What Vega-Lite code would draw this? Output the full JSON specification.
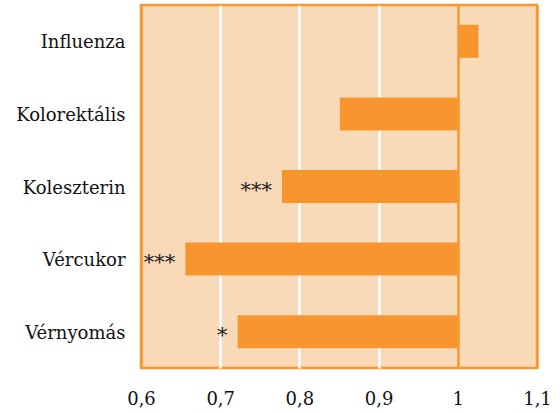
{
  "$schema": "https://vega.github.io/schema/vega-lite/v6.json",
  "autosize": "none",
  "width": 396,
  "height": 363,
  "padding": {"left": 141, "top": 5, "right": 23, "bottom": 45},
  "background": "white",
  "config": {
    "font": "DejaVu Serif",
    "view": {"fill": "#F8DAB8", "stroke": "#F7982F", "strokeWidth": 2.5}
  },
  "data": {
    "values": [
      {"category": "Influenza", "value": 1.026, "sig": ""},
      {"category": "Kolorektális", "value": 0.851, "sig": ""},
      {"category": "Koleszterin", "value": 0.778, "sig": "***"},
      {"category": "Vércukor", "value": 0.656, "sig": "***"},
      {"category": "Vérnyomás", "value": 0.722, "sig": "*"}
    ]
  },
  "encoding": {
    "y": {
      "field": "category",
      "type": "nominal",
      "sort": null,
      "title": null,
      "scale": {"paddingInner": 0.545, "paddingOuter": 0.2725},
      "axis": {
        "domain": false,
        "ticks": false,
        "labelFont": "DejaVu Serif",
        "labelFontSize": 18,
        "labelColor": "#111",
        "labelPadding": 16,
        "labelOffset": 2
      }
    }
  },
  "layer": [
    {
      "mark": {"type": "bar", "color": "#F7962E"},
      "encoding": {
        "x": {
          "field": "value",
          "type": "quantitative",
          "title": null,
          "scale": {"domain": [0.6, 1.1], "nice": false, "zero": false},
          "axis": {
            "values": [0.6, 0.7, 0.8, 0.9, 1.0, 1.1],
            "domain": false,
            "ticks": false,
            "grid": true,
            "gridWidth": 2.5,
            "gridColor": {
              "condition": {"test": "datum.value > 0.95 || datum.value < 0.65", "value": "#F7982F"},
              "value": "white"
            },
            "gridOpacity": 1,
            "labelExpr": "replace(format(datum.value, '~g'), '.', ',')",
            "labelFont": "DejaVu Serif",
            "labelFontSize": 18,
            "labelColor": "#111",
            "labelPadding": 22,
            "labelFlush": false
          }
        },
        "x2": {"datum": 1}
      }
    },
    {
      "mark": {"type": "text", "align": "right", "baseline": "middle", "dx": -10, "dy": 4, "fontSize": 21, "font": "DejaVu Serif", "color": "#222"},
      "encoding": {
        "x": {"field": "value", "type": "quantitative"},
        "text": {"field": "sig"}
      }
    }
  ]
}
